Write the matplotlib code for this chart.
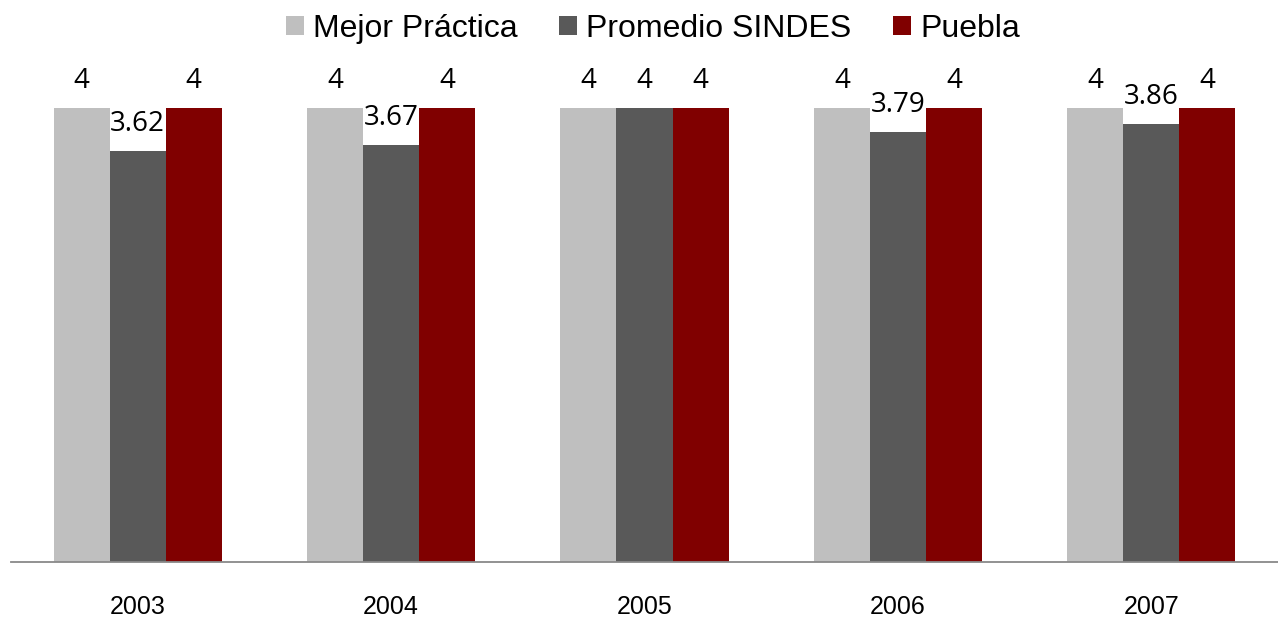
import matplotlib
matplotlib.use("Agg")
import matplotlib.pyplot as plt
import numpy as np

years = ["2003", "2004", "2005", "2006", "2007"]
mejor = [4, 4, 4, 4, 4]
promedio = [3.62, 3.67, 4, 3.79, 3.86]
puebla = [4, 4, 4, 4, 4]
labels_mejor = ["4", "4", "4", "4", "4"]
labels_prom = ["3.62", "3.67", "4", "3.79", "3.86"]
labels_puebla = ["4", "4", "4", "4", "4"]
series_names = ["Mejor Práctica", "Promedio SINDES", "Puebla"]
colors = ["#BFBFBF", "#595959", "#800000"]

W, H = 1278, 627
fig = plt.figure(figsize=(W / 100, H / 100), dpi=100)
ax_bottom = 1 - 562 / H
ax_top = 1 - 51.25 / H
ax = fig.add_axes([11 / W, ax_bottom, 1 - 11 / W, ax_top - ax_bottom])

x = np.arange(len(years))
bw = 0.221
series = [mejor, promedio, puebla]
lbls = [labels_mejor, labels_prom, labels_puebla]
for i, (vals, name, col, lb) in enumerate(zip(series, series_names, colors, lbls)):
    pos = x + (i - 1) * bw
    ax.bar(pos, vals, width=bw, color=col, label=name, zorder=2)
    for p, v, t in zip(pos, vals, lb):
        ax.annotate(t, (p, v), xytext=(0, 14.5), textcoords="offset points",
                    ha="center", va="baseline", fontsize=20,
                    family=["Open Sans", "DejaVu Sans"], color="black")

ax.set_xlim(-0.5, len(years) - 0.5)
ax.set_ylim(0, 4.5)
ax.set_yticks([])
for s in ["top", "left", "right"]:
    ax.spines[s].set_visible(False)
ax.spines["bottom"].set_color("#898989")
ax.spines["bottom"].set_linewidth(1.3)
ax.set_xticks(x)
ax.set_xticklabels(years, fontsize=18, family=["Liberation Sans", "DejaVu Sans"])
ax.tick_params(axis="x", length=0, pad=24)

leg = fig.legend(loc="center", bbox_to_anchor=(653 / W, 1 - 29 / H), ncol=3,
                 frameon=False, prop={"family": ["Liberation Sans", "DejaVu Sans"], "size": 23},
                 handlelength=0.55, handleheight=0.55, handletextpad=0.3,
                 columnspacing=1.3, borderpad=0, borderaxespad=0)

fig.savefig("out.png", dpi=100)
